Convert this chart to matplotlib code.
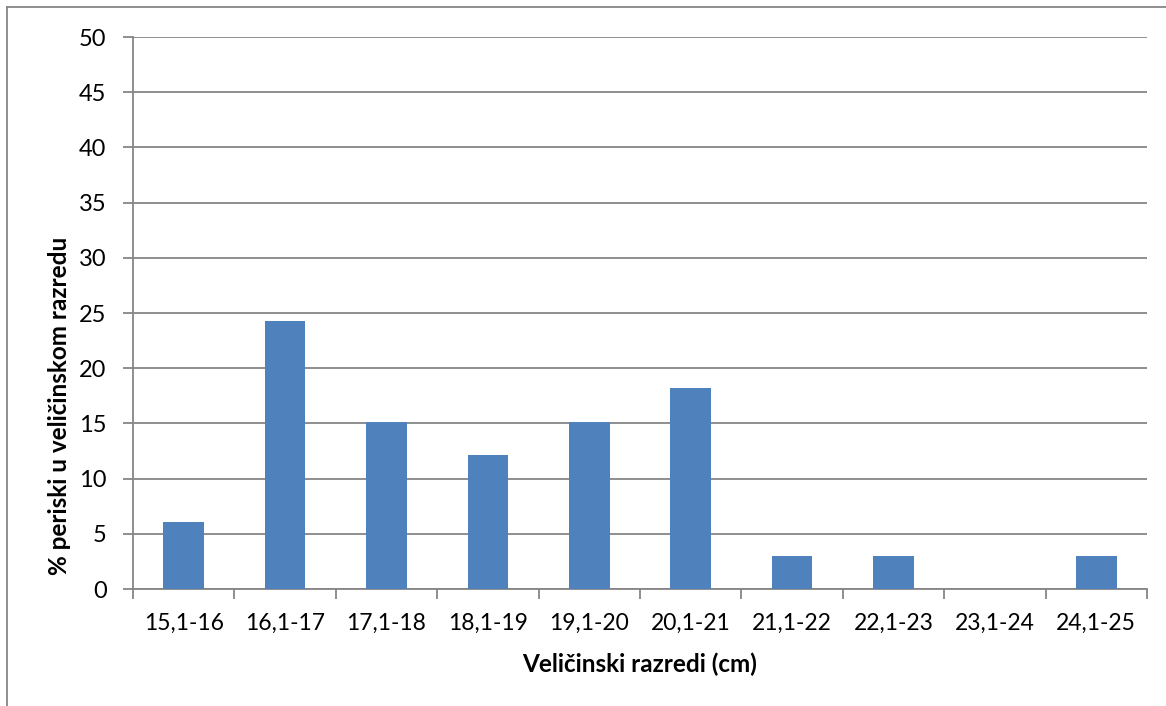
import matplotlib.pyplot as plt
from matplotlib.lines import Line2D
import numpy as np

# size classes and share of pen shells per class
categories = ['15,1-16', '16,1-17', '17,1-18', '18,1-19', '19,1-20',
              '20,1-21', '21,1-22', '22,1-23', '23,1-24', '24,1-25']
values = [6.06, 24.24, 15.15, 12.12, 15.15, 18.18, 3.03, 3.03, 0, 3.03]
yticks = [0, 5, 10, 15, 20, 25, 30, 35, 40, 45, 50]

plt.rcParams['font.family'] = ['Lato', 'DejaVu Sans']

W, H = 1166, 706
fig = plt.figure(figsize=(W / 100, H / 100), dpi=100)
ax = fig.add_axes([133 / W, 1 - 589 / H, (1147 - 133) / W, (589 - 37) / H])

x = np.arange(len(categories))
ax.bar(x, values, width=0.4, color='#4F81BD', zorder=3)

ax.set_xlim(-0.5, len(categories) - 0.5)
ax.set_ylim(0, 50)
ax.set_yticks(yticks)
ax.yaxis.grid(True, color='#868686', linewidth=1.3)
ax.set_axisbelow(True)

ax.set_xticks(x)
ax.set_xticklabels(categories, fontsize=16.5)
ax.set_xticks(np.arange(-0.5, len(categories)), minor=True)
ax.tick_params(axis='x', which='major', length=0, pad=17)
ax.tick_params(axis='x', which='minor', length=7, color='#868686', width=1.3)
ax.tick_params(axis='y', length=7, color='#868686', width=1.3, labelsize=17, pad=12)

for s in ['top', 'right']:
    ax.spines[s].set_visible(False)
for s in ['left', 'bottom']:
    ax.spines[s].set_color('#868686')
    ax.spines[s].set_linewidth(1.3)

fig.text((133 + 1147) / 2 / W, 1 - 664 / H, 'Veličinski razredi (cm)',
         fontsize=17.5, fontweight='bold', ha='center', va='center')
fig.text(60 / W, 1 - 406 / H, '% periski u veličinskom razredu',
         fontsize=17.5, fontweight='bold', ha='center', va='center', rotation=90)

# outer chart border (left and top visible)
fig.add_artist(Line2D([7 / W, 7 / W], [0, 1 - 7 / H], transform=fig.transFigure,
                      color='#868686', linewidth=1.3))
fig.add_artist(Line2D([7 / W, 1], [1 - 7 / H, 1 - 7 / H], transform=fig.transFigure,
                      color='#868686', linewidth=1.3))

fig.savefig('out.png', dpi=100)
